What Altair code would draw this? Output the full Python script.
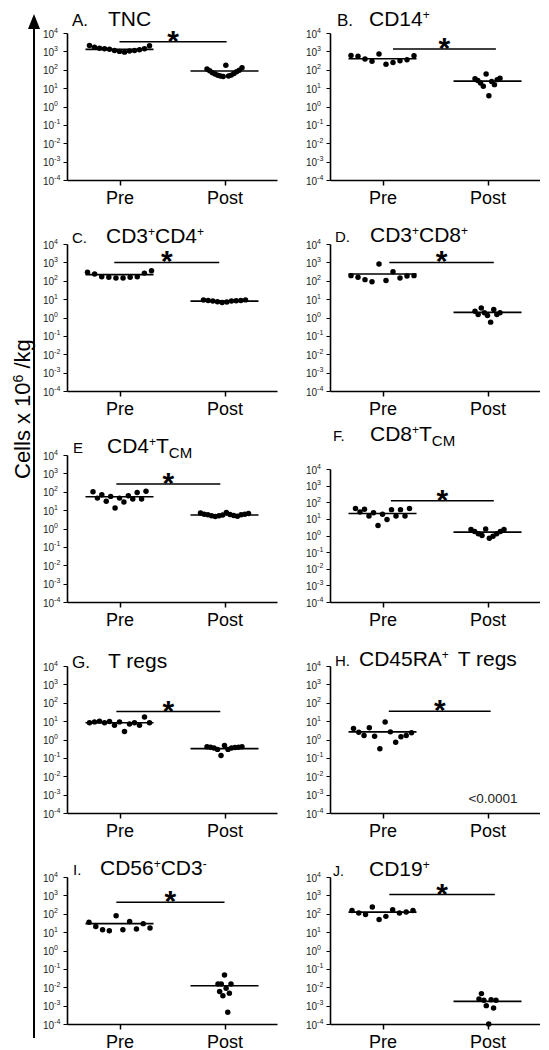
import altair as alt
import pandas as pd

FONT = "Liberation Sans"

# ---------------- data: cells x 10^6 / kg ----------------
# (values in each group listed left-to-right as the dots appear)
TNC_pre = [2100, 1700, 1500, 1380, 1290, 1120, 1000, 910, 1050, 1120, 1230, 1380, 2000]
TNC_post = [110, 89, 69, 59, 50, 46, 43, 178, 46, 51, 63, 78, 95, 129]
CD14_pre = [600, 540, 380, 290, 720, 200, 250, 310, 350, 580]
CD14_post = [32, 26, 19, 12.6, 59, 3.9, 23, 15.5, 29, 35]
CD4_pre = [290, 230, 165, 155, 140, 140, 155, 165, 260, 350]
CD4_post = [8.9, 8.5, 7.8, 7.2, 6.6, 6.9, 7.8, 8.1, 8.5, 9.1]
CD8_pre = [190, 155, 115, 89, 810, 102, 310, 141, 182, 190]
CD8_post = [2.2, 1.45, 3.3, 1.8, 1.3, 0.56, 2.7, 1.45, 1.8]
CD4TCM_pre = [100, 45, 69, 30, 56, 13, 45, 28, 60, 40, 91, 40, 105]
CD4TCM_post = [6.9, 6.0, 5.6, 4.9, 4.5, 4.9, 5.4, 7.4, 5.8, 5.1, 4.7, 5.6, 6.0, 6.6]
CD8TCM_pre = [42, 26, 38, 15, 23, 4.0, 19, 9.3, 36, 15, 36, 15, 42]
CD8TCM_post = [2.3, 1.74, 1.26, 1.0, 2.5, 0.69, 0.91, 1.26, 1.74, 2.3]
Treg_pre = [8.1, 9.1, 10, 8.1, 9.5, 6.0, 9.1, 2.75, 6.9, 8.1, 5.9, 16.6, 8.1]
Treg_post = [0.40, 0.38, 0.34, 0.29, 0.135, 0.47, 0.29, 0.34, 0.37, 0.38, 0.40]
RATreg_pre = [4.0, 2.5, 1.66, 4.4, 1.5, 0.31, 8.9, 2.6, 0.71, 1.41, 1.66, 2.3]
RATreg_post = []
NK_pre = [34, 20, 13.5, 12, 78, 13.5, 38, 14.8, 29, 16.6]
NK_post = [0.015, 0.0058, 0.015, 0.0034, 0.047, 0.0089, 0.00044, 0.0047, 0.015]
CD19_pre = [150, 110, 91, 230, 49, 72, 166, 110, 123, 150]
CD19_post = [0.0023, 0.0045, 0.00195, 0.001, 0.0001, 0.0021, 0.00074, 0.00195]

pre_groups = [TNC_pre, CD14_pre, CD4_pre, CD8_pre, CD4TCM_pre, CD8TCM_pre,
              Treg_pre, RATreg_pre, NK_pre, CD19_pre]
post_groups = [TNC_post, CD14_post, CD4_post, CD8_post, CD4TCM_post, CD8TCM_post,
               Treg_post, RATreg_post, NK_post, CD19_post]

median_pre = [1290, 400, 215, 233, 53, 21, 8.1, 2.6, 29, 123]
median_post = [85, 24, 7.8, 1.9, 5.4, 1.6, 0.32, None, 0.012, 0.0017]
sig_level = [3300, 1350, 1000, 1000, 260, 123, 33, 34, 420, 1100]

letters = ["A.", "B.", "C.", "D.", "E", "F.", "G.", "H.", "I.", "J."]
titles = [
    [("TNC", "m")],
    [("CD14", "m"), ("+", "sup")],
    [("CD3", "m"), ("+", "sup"), ("CD4", "m"), ("+", "sup")],
    [("CD3", "m"), ("+", "sup"), ("CD8", "m"), ("+", "sup")],
    [("CD4", "m"), ("+", "sup"), ("T", "m"), ("CM", "sub")],
    [("CD8", "m"), ("+", "sup"), ("T", "m"), ("CM", "sub")],
    [("T regs", "m")],
    [("CD45RA", "m"), ("+", "sup"), (" T regs", "m")],
    [("CD56", "m"), ("+", "sup"), ("CD3", "m"), ("-", "sup")],
    [("CD19", "m"), ("+", "sup")],
]
groups = ["Pre", "Post"]
tick_vals = [1e-4, 1e-3, 1e-2, 1e-1, 1, 10, 100, 1000, 10000]
tick_exps = ["-4", "-3", "-2", "-1", "0", "1", "2", "3", "4"]
y_title = ["Cells x 10", "6", " /kg"]
pvalue_note = "<0.0001"

# ---------------- layout (pixels / relative units) ----------------
H = 147
col_w = [210, 210]
spread_px = [(60, 35), (63, 25), (64, 42), (63, 25), (53, 48), (54, 33),
             (60, 35), (58, 0), (61, 13), (61, 17)]
sig_span = [(0.0, 1.02), (0.10, 1.08), (-0.05, 0.95), (0.065, 1.06), (-0.03, 0.96),
            (0.08, 1.06), (-0.03, 0.96), (0.06, 1.03), (-0.03, 1.0), (0.065, 1.07)]
# letter x, letter size, title start x, baseline (relative to plot top-left)
title_pos = [(5, 17, 41, -7.5), (7, 17, 39, -7.5), (5, 15, 39, -1), (5, 15, 40, -2),
             (6, 15, 40, -2), (3, 15, 40, -14), (5, 17, 41, 2), (5, 15, 29, 0),
             (6, 15, 33, -2), (3, 14, 39, -1)]
y_top = [0, 0, 0, 0, 0, 14, 0, 0, 0, 0]
half_line_px = 34

WT = {' ': 278, '+': 584, '-': 333, '.': 278, '<': 584, '/': 278, 'A': 667, 'B': 667,
      'C': 722, 'D': 722, 'E': 667, 'F': 611, 'G': 778, 'H': 722, 'I': 278, 'J': 500,
      'M': 833, 'N': 722, 'R': 722, 'T': 611, 'e': 556, 'g': 556, 'r': 333, 's': 500,
      'x': 500, 'l': 222, 'k': 500}


def text_w(s, size):
    return sum(WT.get(ch, 556) for ch in s) * size / 1000.0


def piece(txt, x, y, size, **kw):
    props = dict(align="left", baseline="alphabetic", fontSize=size, font=FONT, color="black")
    props.update(kw)
    return alt.Chart(pd.DataFrame({"t": [txt]})).mark_text(**props).encode(
        text="t:N", x=alt.value(x), y=alt.value(y))


def make_panel(k):
    w = col_w[k % 2]
    step = w / 2.0
    yscale = alt.Scale(type="log", domain=[1e-4, 1e4], nice=False,
                       range=[H, y_top[k]])
    xscale = alt.Scale(domain=[-0.5, 1.5], nice=False, zero=False)
    xaxis = alt.Axis(values=[0, 1], labelExpr="datum.value == 0 ? 'Pre' : 'Post'",
                     title=None, grid=False, tickSize=5, tickWidth=1.5, domainWidth=1.6,
                     domainColor="black", tickColor="black", labelColor="black",
                     labelFont=FONT, labelFontSize=18, labelPadding=4, labelFlush=False)
    yaxis = alt.Axis(values=tick_vals, labels=False, title=None, grid=False, tickSize=4,
                     tickWidth=1, domainWidth=1.6, domainColor="black", tickColor="black")

    def X(f):
        return alt.X(f, type="quantitative", scale=xscale, axis=xaxis)

    def Y(f):
        return alt.Y(f, type="quantitative", scale=yscale, axis=yaxis)

    rows = []
    for g, vals in enumerate([pre_groups[k], post_groups[k]]):
        n = len(vals)
        sp = spread_px[k][g] / step
        for i, v in enumerate(vals):
            off = 0 if n == 1 else (i / (n - 1) - 0.5) * sp
            rows.append({"x": g + off, "y": v, "grp": groups[g]})
    pts = pd.DataFrame(rows)

    hl = half_line_px / step
    mrows = []
    for g, m in enumerate([median_pre[k], median_post[k]]):
        if m is not None:
            mrows.append({"x1": g - hl, "x2": g + hl, "y": m})
    med = pd.DataFrame(mrows)

    s0, s1 = sig_span[k]
    sig = pd.DataFrame({"x1": [s0], "x2": [s1], "xm": [(s0 + s1) / 2],
                        "y": [sig_level[k]], "star": ["*"]})
    ticks = pd.DataFrame({"v": tick_vals, "base": ["10"] * len(tick_vals), "e": tick_exps})

    layers = [
        alt.Chart(pts).mark_circle(size=30, color="black", opacity=1).encode(
            x=X("x"), y=Y("y")),
        alt.Chart(med).mark_rule(color="black", strokeWidth=1.6).encode(
            x=X("x1"), x2="x2", y=Y("y")),
        alt.Chart(sig).mark_rule(color="black", strokeWidth=1.5).encode(
            x=X("x1"), x2="x2", y=Y("y")),
        alt.Chart(sig).mark_text(fontSize=30, fontWeight="bold", font=FONT, color="black",
                                 baseline="alphabetic", dy=9).encode(
            x=X("xm"), y=Y("y"), text="star:N"),
        alt.Chart(ticks).mark_text(align="left", baseline="middle", fontSize=10, font=FONT,
                                   color="#222", dy=1.5).encode(
            x=alt.value(-24), y=Y("v"), text="base:N"),
        alt.Chart(ticks).mark_text(align="left", baseline="middle", fontSize=7, font=FONT,
                                   color="#222", dy=-2.5).encode(
            x=alt.value(-24 + text_w("10", 10)), y=Y("v"), text="e:N"),
    ]

    lx, lsize, sx, b = title_pos[k]
    layers.append(piece(letters[k], lx, b, lsize))
    x = sx
    for txt, kind in titles[k]:
        if txt.startswith(" "):
            x += text_w(" ", 21) + 3
            txt = txt.strip()
        if kind == "m":
            size, yy = 21, b
        elif kind == "sup":
            size, yy = 12, b - 7
        else:
            size, yy = 15, b + 5
        layers.append(piece(txt, x, yy, size))
        x += text_w(txt, size)

    if k == 7:
        layers.append(piece(pvalue_note, 163, 137, 13.5, align="center", color="#222"))

    if k == 0:
        # big vertical arrow and shared y title
        one = pd.DataFrame({"a": [0]})
        layers.append(alt.Chart(one).mark_rule(color="black", strokeWidth=2).encode(
            x=alt.value(-33), y=alt.value(-6), y2=alt.value(1005)))
        layers.append(alt.Chart(one).mark_point(
            shape="M0,-1L0.8,1L-0.8,1Z", filled=True, color="black", opacity=1,
            size=225).encode(x=alt.value(-33), y=alt.value(-11.5)))
        bx, yy = -37.5, 446
        layers.append(piece(y_title[0], bx, yy, 22, angle=270))
        yy -= text_w(y_title[0], 22)
        layers.append(piece(y_title[1], bx - 7, yy, 14, angle=270))
        yy -= text_w(y_title[1], 14) + text_w(" ", 22)
        layers.append(piece(y_title[2].strip(), bx, yy, 22, angle=270))

    return alt.layer(*layers).properties(width=w, height=H)


panels = [make_panel(k) for k in range(10)]
chart = alt.concat(*panels, columns=2, spacing={"row": 64, "column": 53},
                   bounds="flush").properties(
    padding={"left": 3, "top": 0, "right": 0, "bottom": 0}, background="white"
).configure_view(stroke=None)

chart.save("out.html", embed_options={"renderer": "svg", "actions": False})
